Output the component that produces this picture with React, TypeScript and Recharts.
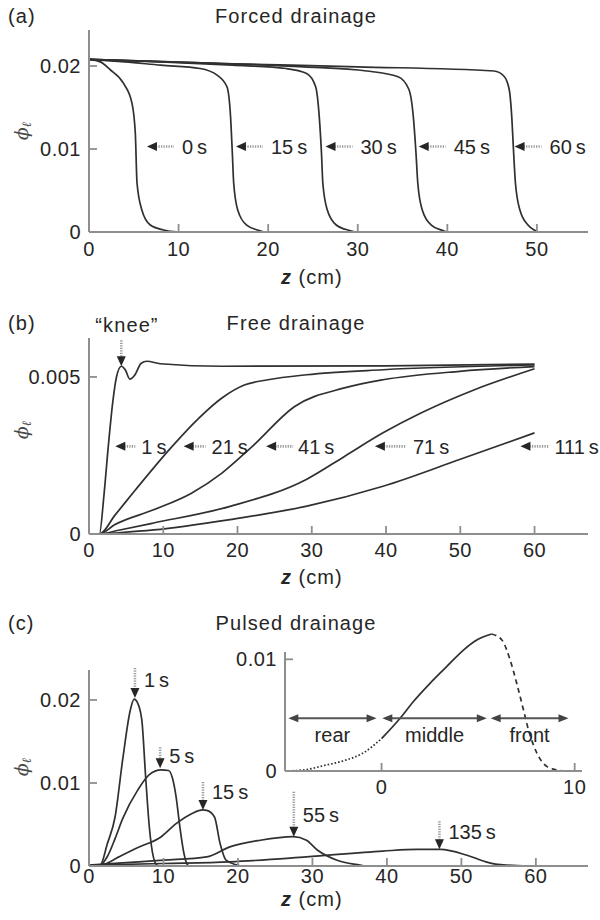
import React from 'react';
import { LineChart, Line, XAxis, YAxis, ReferenceDot, ReferenceLine } from 'recharts';

const FONT = '"Liberation Sans", Arial, Helvetica, sans-serif';
const AXIS_GRAY = '#8e8e8e';
const INK = '#262626';
const CURVE = '#303030';
const SHAFT = '#9c9c9c';

type Pt = [number, number];

// (a) forced drainage: liquid fraction vs z (cm)
const forced0s: Pt[] = [[0, 0.0208], [1.26, 0.0205], [2.4, 0.01952], [3.86, 0.0179], [4.8, 0.0155], [5.17, 0.0119], [5.36, 0.0059], [5.9, 0.00265], [6.84, 0.00084], [8.3, 0.00024], [10, 0]];
const forced15s: Pt[] = [[0, 0.0208], [4, 0.0205], [8, 0.0201], [12.4, 0.0197], [14.3, 0.0189], [15.4, 0.0175], [15.8, 0.0139], [16.0, 0.0095], [16.15, 0.0059], [16.6, 0.00265], [17.6, 0.00084], [19.0, 0.00018], [19.6, 0]];
const forced30s: Pt[] = [[0, 0.0208], [8, 0.0205], [16, 0.0201], [22, 0.0197], [24.3, 0.0191], [25.3, 0.0175], [25.7, 0.0139], [25.95, 0.0095], [26.1, 0.0059], [26.6, 0.00265], [27.6, 0.00084], [29.1, 0.00018], [29.8, 0]];
const forced45s: Pt[] = [[0, 0.0208], [12, 0.0204], [24, 0.0199], [31, 0.0194], [34.5, 0.0187], [35.7, 0.0172], [36.2, 0.0139], [36.5, 0.0095], [36.7, 0.0059], [37.2, 0.00265], [38.2, 0.00084], [39.5, 0.00018], [40, 0]];
const forced60s: Pt[] = [[0, 0.0208], [15, 0.0203], [30, 0.0199], [45.2, 0.0194], [46.3, 0.0188], [46.9, 0.0172], [47.2, 0.0137], [47.4, 0.0095], [47.6, 0.0059], [48.1, 0.00265], [49.0, 0.00084], [49.8, 0.00018], [50.1, 0]];
const forcedTimes = ['0\u2009s', '15\u2009s', '30\u2009s', '45\u2009s', '60\u2009s'];
const forcedTagZ = [6.47, 16.4, 26.4, 36.8, 47.5];

// (b) free drainage
const free1s: Pt[] = [[0, 0], [1.4, 0], [2.0, 0.0012], [2.6, 0.0028], [3.2, 0.0042], [3.7, 0.005], [4.35, 0.00534], [4.9, 0.00522], [5.5, 0.00493], [6.2, 0.00507], [7.0, 0.00543], [7.8, 0.0055], [9.6, 0.00542], [18, 0.00534], [40, 0.00535], [60, 0.00541]];
const free21s: Pt[] = [[0, 0], [1.4, 0], [3.5, 0.0006], [6.1, 0.00136], [11.2, 0.00279], [14.8, 0.00369], [17.9, 0.00433], [21.0, 0.00475], [24.1, 0.00491], [29.3, 0.00507], [39.6, 0.00523], [60, 0.00538]];
const free41s: Pt[] = [[0, 0], [1.4, 0], [3.5, 0.0003], [8.7, 0.00077], [13.8, 0.0013], [17.9, 0.00194], [22.0, 0.00279], [27.7, 0.00406], [34.4, 0.00465], [39.6, 0.00491], [49.9, 0.00518], [60, 0.00533]];
const free71s: Pt[] = [[0, 0], [1.4, 0], [4, 0.00012], [8.7, 0.00035], [19.0, 0.00088], [29.2, 0.00173], [34.4, 0.00247], [39.6, 0.00322], [44.7, 0.00385], [52, 0.0046], [60, 0.00526]];
const free111s: Pt[] = [[0, 0], [1.4, 0], [4, 0.00004], [8.7, 0.00013], [19.0, 0.00046], [29.2, 0.00088], [39.6, 0.00152], [49.9, 0.00237], [60, 0.00322]];
const freeTimes = ['1\u2009s', '21\u2009s', '41\u2009s', '71\u2009s', '111\u2009s'];
const freeTagZ = [3.54, 12.74, 23.85, 38.5, 58.1];
const kneeAt: Pt = [4.35, 0.00534];

// (c) pulsed drainage
const pulse1s: Pt[] = [[0, 0], [1.5, 0.0001], [2.47, 0.0027], [3.5, 0.0059], [4.52, 0.0128], [5.55, 0.0188], [6.06, 0.0201], [6.5, 0.0197], [7.09, 0.0176], [7.6, 0.0108], [8.1, 0.0047], [8.64, 0.0011], [9.15, 0.0001], [9.6, 0]];
const pulse5s: Pt[] = [[0, 0], [1.5, 0.0001], [2.5, 0.0012], [3.5, 0.0033], [4.52, 0.0057], [6.58, 0.0092], [8.1, 0.011], [9.66, 0.01157], [10.69, 0.0115], [11.2, 0.0106], [11.7, 0.0083], [12.2, 0.0047], [12.75, 0.0015], [13.26, 0.0001], [13.6, 0]];
const pulse15s: Pt[] = [[0, 0], [2, 0.0002], [4, 0.0011], [6.5, 0.0022], [9.66, 0.0035], [11.7, 0.0051], [13.77, 0.0063], [15.3, 0.00675], [15.8, 0.0067], [16.85, 0.0059], [17.6, 0.0027], [18.4, 0.0007], [19.9, 0.0001], [20.3, 0]];
const pulse55s: Pt[] = [[0, 0.0001], [5, 0.0004], [10, 0.0007], [15.8, 0.0011], [18.9, 0.0023], [23.0, 0.0031], [27.4, 0.00353], [29.2, 0.0031], [30.7, 0.0019], [33.3, 0.0007], [36.4, 0.0001], [37, 0]];
const pulse135s: Pt[] = [[0, 0.0001], [10, 0.0003], [18.9, 0.0005], [29.2, 0.0011], [39.45, 0.0018], [44, 0.002], [47.2, 0.002], [50.75, 0.0013], [53.3, 0.0005], [54.9, 0.0002], [59, 0]];
const pulsedTimes = ['1\u2009s', '5\u2009s', '15\u2009s', '55\u2009s', '135\u2009s'];
const pulsedPeakZ = [6.17, 9.55, 15.3, 27.5, 47.05];
const pulsedPeakPhi = [0.02024, 0.01177, 0.00675, 0.00353, 0.00201];

// inset: one pulse split into rear / middle / front
const pulseRear: Pt[] = [[-5, 0], [-4, 0.0001], [-2.95, 0.0005], [-2, 0.0009], [-0.96, 0.0016], [0, 0.0029]];
const pulseMiddle: Pt[] = [[0, 0.0029], [0.95, 0.0047], [1.64, 0.0062], [2.51, 0.00785], [3.37, 0.00934], [4.24, 0.01083], [4.93, 0.01173], [5.7, 0.01227]];
const pulseFront: Pt[] = [[5.7, 0.01227], [6.23, 0.01173], [6.66, 0.00994], [7.0, 0.00785], [7.35, 0.00546], [7.61, 0.00367], [8.05, 0.00158], [8.57, 0.00039], [9.09, 0.0001], [9.5, 0]];
const regionNames = ['rear', 'middle', 'front'];
const regionFrom = [-4.83, 0.04, 5.65];
const regionTo = [-0.26, 5.45, 9.68];

const toRows = (pts: Pt[]) => pts.map(([z, phi]) => ({ z, phi }));
const fmt = (v: number) => (v === 0 ? '0' : String(v));

const tickText = { fontFamily: FONT, fontSize: 20, fill: INK, letterSpacing: 0.5 };
const axisLine = { stroke: AXIS_GRAY, strokeWidth: 2 };

// ticks point inward, so they are drawn by hand
const xTick = (dy: number, skipZero: boolean) => (p: any) => {
  const { x, y, payload } = p;
  return (
    <g>
      {!(skipZero && payload.value === 0) && (
        <line x1={x} x2={x} y1={y} y2={y - 8} stroke={AXIS_GRAY} strokeWidth={1.8} />
      )}
      <text x={x} y={y + dy} textAnchor="middle" {...tickText}>{fmt(payload.value)}</text>
    </g>
  );
};

const yTick = (p: any) => {
  const { x, y, payload } = p;
  return (
    <g>
      {payload.value !== 0 && <line x1={x} x2={x + 8} y1={y} y2={y} stroke={AXIS_GRAY} strokeWidth={1.8} />}
      <text x={x - 8} y={y} dy="0.36em" textAnchor="end" {...tickText}>{fmt(payload.value)}</text>
    </g>
  );
};

const leftTag = (text: string, len: number, gap: number) => (p: any) => {
  const { cx, cy } = p;
  return (
    <g>
      <line x1={cx + 9} y1={cy} x2={cx + len} y2={cy} stroke={SHAFT} strokeWidth={2.6} strokeDasharray="1.3 1.2" />
      <polygon points={`${cx},${cy} ${cx + 10},${cy - 4.5} ${cx + 10},${cy + 4.5}`} fill={INK} />
      <text x={cx + len + gap} y={cy} dy="0.36em" fontFamily={FONT} fontSize={20} fill={INK}>{text}</text>
    </g>
  );
};

const downTag = (text: string, len: number, labelDy: number) => (p: any) => {
  const { cx, cy } = p;
  return (
    <g>
      <line x1={cx} y1={cy - len} x2={cx} y2={cy - 9} stroke={SHAFT} strokeWidth={2.6} strokeDasharray="1.3 1.2" />
      <polygon points={`${cx},${cy} ${cx - 4.5},${cy - 10} ${cx + 4.5},${cy - 10}`} fill={INK} />
      {text && (
        <text x={cx + 9} y={cy - len + labelDy} dy="0.36em" fontFamily={FONT} fontSize={20} fill={INK}>{text}</text>
      )}
    </g>
  );
};

const spanArrow = (text: string) => (p: any) => {
  const { x1, x2, y1 } = p;
  return (
    <g>
      <line x1={x1 + 3} x2={x2 - 3} y1={y1} y2={y1} stroke="#555" strokeWidth={2} />
      <polygon points={`${x1},${y1} ${x1 + 10},${y1 - 4} ${x1 + 10},${y1 + 4}`} fill="#444" />
      <polygon points={`${x2},${y1} ${x2 - 10},${y1 - 4} ${x2 - 10},${y1 + 4}`} fill="#444" />
      <text x={(x1 + x2) / 2} y={y1 + 24} textAnchor="middle" fontFamily={FONT} fontSize={20} fill={INK}>{text}</text>
    </g>
  );
};

const curve = (pts: Pt[], key: string, dash?: string) => (
  <Line
    key={key}
    data={toRows(pts)}
    dataKey="phi"
    type="monotone"
    stroke={CURVE}
    strokeWidth={1.7}
    strokeDasharray={dash}
    dot={false}
    activeDot={false}
    isAnimationActive={false}
  />
);

const ForcedPanel = () => (
  <LineChart width={600} height={300} margin={{ top: 30, right: 12, bottom: 38, left: 29 }}>
    <XAxis type="number" dataKey="z" domain={[0, 55.7]} ticks={[0, 10, 20, 30, 40, 50]} interval={0} allowDataOverflow
      axisLine={axisLine} tickLine={false} tickSize={0} tickMargin={0} tick={xTick(24, true)} height={30} />
    <YAxis type="number" domain={[0, 0.02434]} ticks={[0, 0.01, 0.02]} interval={0} allowDataOverflow
      axisLine={axisLine} tickLine={false} tickSize={0} tickMargin={0} tick={yTick} width={60} />
    {[forced0s, forced15s, forced30s, forced45s, forced60s].map((c, i) => curve(c, `f${i}`))}
    {forcedTimes.map((t, i) => (
      <ReferenceDot key={t} x={forcedTagZ[i]} y={0.0103} ifOverflow="visible" shape={leftTag(t, 27, 8)} />
    ))}
  </LineChart>
);

const freeLens = [20, 22, 27, 31, 29];
const freeGaps = [6, 6, 5, 7, 5];

const FreePanel = () => (
  <LineChart width={600} height={310} margin={{ top: 38, right: 12, bottom: 46, left: 29 }}>
    <XAxis type="number" dataKey="z" domain={[0, 67.2]} ticks={[0, 10, 20, 30, 40, 50, 60]} interval={0} allowDataOverflow
      axisLine={axisLine} tickLine={false} tickSize={0} tickMargin={0} tick={xTick(23, true)} height={30} />
    <YAxis type="number" domain={[0, 0.00624]} ticks={[0, 0.005]} interval={0} allowDataOverflow
      axisLine={axisLine} tickLine={false} tickSize={0} tickMargin={0} tick={yTick} width={60} />
    {[free1s, free21s, free41s, free71s, free111s].map((c, i) => curve(c, `b${i}`))}
    {freeTimes.map((t, i) => (
      <ReferenceDot key={t} x={freeTagZ[i]} y={0.00279} ifOverflow="visible" shape={leftTag(t, freeLens[i], freeGaps[i])} />
    ))}
    <ReferenceDot x={kneeAt[0]} y={kneeAt[1]} ifOverflow="visible" shape={downTag('', 26, 0)} />
  </LineChart>
);

const pulsedLens = [30, 21, 28, 45, 28];
const pulsedLabelDy = [12, 9, 10, 23, 10];

const PulsedPanel = () => (
  <LineChart width={600} height={310} margin={{ top: 60, right: 12, bottom: 24, left: 29 }}>
    <XAxis type="number" dataKey="z" domain={[0, 67]} ticks={[0, 10, 20, 30, 40, 50, 60]} interval={0} allowDataOverflow
      axisLine={axisLine} tickLine={false} tickSize={0} tickMargin={0} tick={xTick(17, true)} height={30} />
    <YAxis type="number" domain={[0, 0.02361]} ticks={[0, 0.01, 0.02]} interval={0} allowDataOverflow
      axisLine={axisLine} tickLine={false} tickSize={0} tickMargin={0} tick={yTick} width={60} />
    {[pulse1s, pulse5s, pulse15s, pulse55s, pulse135s].map((c, i) => curve(c, `p${i}`))}
    {pulsedTimes.map((t, i) => (
      <ReferenceDot key={t} x={pulsedPeakZ[i]} y={pulsedPeakPhi[i]} ifOverflow="visible"
        shape={downTag(t, pulsedLens[i], pulsedLabelDy[i])} />
    ))}
  </LineChart>
);

const PulseInset = () => (
  <LineChart width={400} height={190} margin={{ top: 10, right: 18, bottom: 9, left: 25 }}>
    <XAxis type="number" dataKey="z" domain={[-5, 10.38]} ticks={[0, 10]} interval={0} allowDataOverflow
      axisLine={axisLine} tickLine={false} tickSize={0} tickMargin={0} tick={xTick(23, false)} height={30} />
    <YAxis type="number" domain={[0, 0.012623]} ticks={[0, 0.01]} interval={0} allowDataOverflow
      axisLine={false} tickLine={false} tickSize={0} tickMargin={0} tick={yTick} width={60} />
    <ReferenceLine segment={[{ x: -5, y: 0 }, { x: -5, y: 0.01065 }]} stroke={AXIS_GRAY} strokeWidth={2} ifOverflow="visible" />
    {curve(pulseRear, 'rear', '1.6 2')}
    {curve(pulseMiddle, 'middle')}
    {curve(pulseFront, 'front', '5 4')}
    {regionNames.map((n, i) => (
      <ReferenceLine key={n} segment={[{ x: regionFrom[i], y: 0.00472 }, { x: regionTo[i], y: 0.00472 }]}
        ifOverflow="visible" shape={spanArrow(n)} />
    ))}
  </LineChart>
);

const titleStyle = { fontFamily: FONT, fontSize: 20, fill: INK, letterSpacing: 1.1 };

const PhiLabel = ({ y }: { y: number }) => (
  <text x={21} y={y} transform={`rotate(-90, 21, ${y})`} textAnchor="middle" dominantBaseline="central"
    fontFamily='"DejaVu Serif", serif' fontStyle="italic" fontSize={19} fill="#4a4a4a">
    ϕ<tspan fontSize={13} dy={5}>ℓ</tspan>
  </text>
);

const ZLabel = ({ y }: { y: number }) => (
  <text x={281} y={y} fontFamily={FONT} fontSize={20} fill={INK} letterSpacing={1}>
    <tspan fontWeight="bold" fontStyle="italic">z</tspan> (cm)
  </text>
);

const App = () => (
  <div style={{ position: 'absolute', left: 0, top: 0, width: 600, height: 920, background: '#fff' }}>
    <div style={{ position: 'absolute', left: 0, top: 0 }}><ForcedPanel /></div>
    <div style={{ position: 'absolute', left: 0, top: 300 }}><FreePanel /></div>
    <div style={{ position: 'absolute', left: 0, top: 610 }}><PulsedPanel /></div>
    <div style={{ position: 'absolute', left: 200, top: 620 }}><PulseInset /></div>
    <svg width={600} height={920} style={{ position: 'absolute', left: 0, top: 0, pointerEvents: 'none' }}>
      <text x={8} y={23} {...titleStyle}>(a)</text>
      <text x={296} y={23} textAnchor="middle" {...titleStyle}>Forced drainage</text>
      <text x={8} y={330} {...titleStyle}>(b)</text>
      <text x={296} y={330} textAnchor="middle" {...titleStyle}>Free drainage</text>
      <text x={127} y={332} textAnchor="middle" {...titleStyle}>“knee”</text>
      <text x={8} y={630} {...titleStyle}>(c)</text>
      <text x={296} y={630} textAnchor="middle" {...titleStyle}>Pulsed drainage</text>
      <ZLabel y={284} />
      <ZLabel y={584} />
      <ZLabel y={906} />
      <PhiLabel y={131} />
      <PhiLabel y={430} />
      <PhiLabel y={767} />
    </svg>
  </div>
);

export default App;
